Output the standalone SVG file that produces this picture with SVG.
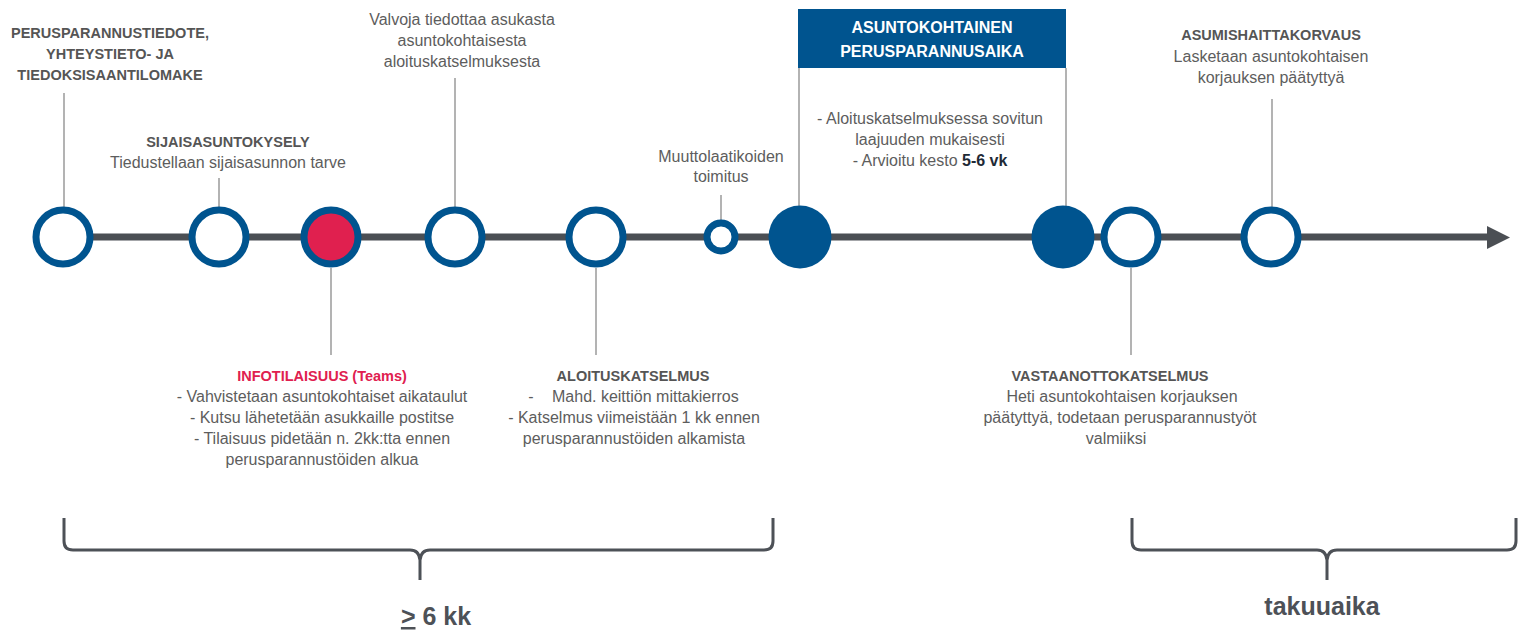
<svg xmlns="http://www.w3.org/2000/svg" width="1518" height="633" viewBox="0 0 1518 633">
<style>
text{font-family:"Liberation Sans",Arial,sans-serif;text-anchor:middle}
.h{font-weight:bold;font-size:14.5px;fill:#555555}
.b{font-size:16px;fill:#5d5d5d}
.bx{font-weight:bold;font-size:16px;fill:#ffffff}
.red{font-weight:bold;font-size:14.5px;fill:#e0204f}
.big{font-weight:bold;font-size:25px;fill:#4d5157}
.ring{fill:#ffffff;stroke:#00548f;stroke-width:7}
.solid{fill:#00548f}
.tick{stroke:#9a9a9a;stroke-width:1.5;fill:none}
.brace{stroke:#4d5157;stroke-width:3;fill:none}
</style>
<rect width="1518" height="633" fill="#ffffff"/>
<g id="connectors">
<line x1="63" y1="237" x2="1490" y2="237" stroke="#4b4f54" stroke-width="7"/>
<polygon points="1487,226 1510,237.5 1487,249" fill="#4b4f54"/>
<line class="tick" x1="64" y1="93" x2="64" y2="207"/>
<line class="tick" x1="219" y1="178" x2="219" y2="207"/>
<line class="tick" x1="331" y1="268" x2="331" y2="355"/>
<line class="tick" x1="455" y1="78" x2="455" y2="207"/>
<line class="tick" x1="596" y1="268" x2="596" y2="355"/>
<line class="tick" x1="721" y1="195" x2="721" y2="221"/>
<line class="tick" x1="799" y1="68" x2="799" y2="206"/>
<line class="tick" x1="1066" y1="68" x2="1066" y2="206"/>
<line class="tick" x1="1131" y1="268" x2="1131" y2="355"/>
<line class="tick" x1="1272" y1="99" x2="1272" y2="207"/>
</g>
<g id="node-tiedote">
<circle class="ring" cx="63" cy="237" r="27"/>
<text class="h" x="110" y="38">PERUSPARANNUSTIEDOTE,</text>
<text class="h" x="110" y="59">YHTEYSTIETO- JA</text>
<text class="h" x="110" y="80">TIEDOKSISAANTILOMAKE</text>
</g>
<g id="node-sijaisasunto">
<circle class="ring" cx="219" cy="237" r="27"/>
<text class="h" x="228" y="147">SIJAISASUNTOKYSELY</text>
<text class="b" x="228" y="168">Tiedustellaan sijaisasunnon tarve</text>
</g>
<g id="node-info">
<circle cx="331" cy="237" r="27" fill="#e0204f" stroke="#00548f" stroke-width="7"/>
<text class="red" x="322" y="381">INFOTILAISUUS (Teams)</text>
<text class="b" x="322" y="402">- Vahvistetaan asuntokohtaiset aikataulut</text>
<text class="b" x="322" y="423">- Kutsu lähetetään asukkaille postitse</text>
<text class="b" x="322" y="444">- Tilaisuus pidetään n. 2kk:tta ennen</text>
<text class="b" x="322" y="465">perusparannustöiden alkua</text>
</g>
<g id="node-valvoja">
<circle class="ring" cx="455" cy="237" r="27"/>
<text class="b" x="462" y="25">Valvoja tiedottaa asukasta</text>
<text class="b" x="462" y="46">asuntokohtaisesta</text>
<text class="b" x="462" y="67">aloituskatselmuksesta</text>
</g>
<g id="node-aloitus">
<circle class="ring" cx="596" cy="237" r="27"/>
<text class="h" x="633" y="381">ALOITUSKATSELMUS</text>
<text class="b" x="531" y="402">-</text>
<text class="b" x="552" y="402" style="text-anchor:start">Mahd. keittiön mittakierros</text>
<text class="b" x="634" y="423">- Katselmus viimeistään 1 kk ennen</text>
<text class="b" x="634" y="444">perusparannustöiden alkamista</text>
</g>
<g id="node-muutto">
<circle class="ring" cx="721" cy="237" r="14"/>
<text class="b" x="721" y="162">Muuttolaatikoiden</text>
<text class="b" x="721" y="182">toimitus</text>
</g>
<g id="node-alku">
<circle class="solid" cx="800" cy="237" r="31.5"/>
</g>
<g id="period-box">
<rect x="798" y="9" width="268" height="59" fill="#00548f"/>
<text class="bx" x="932" y="33">ASUNTOKOHTAINEN</text>
<text class="bx" x="932" y="57">PERUSPARANNUSAIKA</text>
<text class="b" x="930" y="124">- Aloituskatselmuksessa sovitun</text>
<text class="b" x="930" y="145">laajuuden mukaisesti</text>
<text class="b" x="930" y="166">- Arvioitu kesto <tspan font-weight="bold" fill="#1e2a36">5-6 vk</tspan></text>
</g>
<g id="node-loppu">
<circle class="solid" cx="1063" cy="237" r="31.5"/>
</g>
<g id="node-vastaanotto">
<circle class="ring" cx="1131" cy="237" r="27"/>
<text class="h" x="1110" y="381">VASTAANOTTOKATSELMUS</text>
<text class="b" x="1122" y="402">Heti asuntokohtaisen korjauksen</text>
<text class="b" x="1120" y="423">päätyttyä, todetaan perusparannustyöt</text>
<text class="b" x="1116" y="444">valmiiksi</text>
</g>
<g id="node-asumishaitta">
<circle class="ring" cx="1271" cy="237" r="27"/>
<text class="h" x="1271" y="40">ASUMISHAITTAKORVAUS</text>
<text class="b" x="1271" y="62">Lasketaan asuntokohtaisen</text>
<text class="b" x="1271" y="83">korjauksen päätyttyä</text>
</g>
<g id="brace-6kk">
<path class="brace" d="M64,518 V541 Q64,550 73,550 H410 Q419,550 420,560 V580 M420,560 Q421,550 430,550 H764 Q773,550 773,541 V518"/>
<text class="big" x="436" y="625"><tspan text-decoration="underline">&gt;</tspan> 6 kk</text>
</g>
<g id="brace-takuu">
<path class="brace" d="M1132,518 V541 Q1132,550 1141,550 H1317 Q1326,550 1327,560 V580 M1327,560 Q1328,550 1337,550 H1507 Q1516,550 1516,541 V518"/>
<text class="big" x="1322" y="615">takuuaika</text>
</g>
</svg>
